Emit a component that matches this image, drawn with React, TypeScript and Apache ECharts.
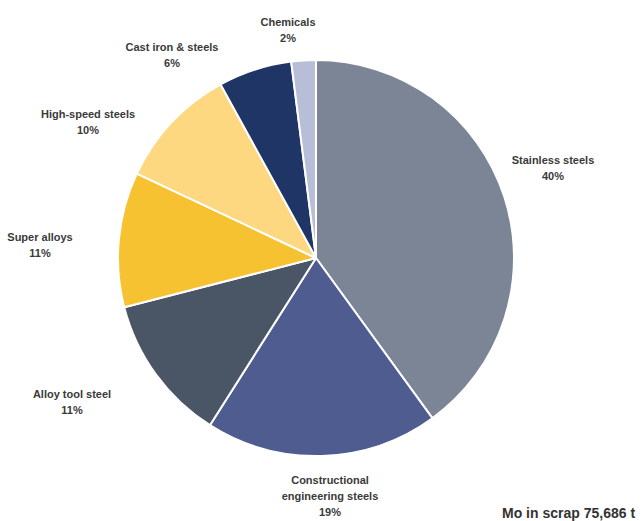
import React, { useEffect, useRef } from "react";
import * as echarts from "echarts";

const categories = [
  "Stainless steels",
  "Constructional\nengineering steels",
  "Alloy tool steel",
  "Super alloys",
  "High-speed steels",
  "Cast iron & steels",
  "Chemicals",
];
const values = [40, 19, 12, 11, 10, 6, 2];
const pctLabels = ["40%", "19%", "11%", "11%", "10%", "6%", "2%"];
const colors = ["#7b8596", "#4e5c90", "#4a5566", "#f6c232", "#fdd880", "#1f3566", "#b9bed8"];
const labelPos: [number, number][] = [
  [553, 168],
  [330, 496],
  [72, 402],
  [40, 245],
  [88, 122],
  [172, 55],
  [288, 30],
];
const footnote = "Mo in scrap 75,686 t";

export default function App() {
  const ref = useRef<HTMLDivElement>(null);
  useEffect(() => {
    if (!ref.current) return;
    const chart = echarts.init(ref.current, null, { renderer: "svg" });
    chart.setOption({
      animation: false,
      backgroundColor: "#ffffff",
      graphic: [
        {
          type: "text",
          left: 502,
          top: 506,
          style: {
            text: footnote,
            fill: "#333333",
            font: "bold 14px Arial, 'Liberation Sans', sans-serif",
          },
        },
      ],
      series: [
        {
          type: "pie",
          center: [316, 258],
          radius: [0, 198],
          startAngle: 90,
          clockwise: true,
          avoidLabelOverlap: false,
          itemStyle: { borderColor: "#ffffff", borderWidth: 2 },
          label: {
            show: true,
            position: "outside",
            formatter: (p: any) => `${p.name}\n${pctLabels[p.dataIndex]}`,
            color: "#3a3a3a",
            fontFamily: "Arial, 'Liberation Sans', sans-serif",
            fontWeight: "bold",
            fontSize: 11,
            lineHeight: 16,
            align: "center",
          },
          labelLine: { show: false },
          labelLayout: (params: any) => {
            const pos = labelPos[params.dataIndex];
            return { x: pos[0], y: pos[1], align: "center", verticalAlign: "middle" };
          },
          data: categories.map((c, i) => ({
            name: c,
            value: values[i],
            itemStyle: { color: colors[i] },
          })),
        },
      ],
    });
    return () => chart.dispose();
  }, []);
  return (
    <div
      ref={ref}
      style={{ position: "absolute", left: 0, top: 0, width: 641, height: 521 }}
    />
  );
}
